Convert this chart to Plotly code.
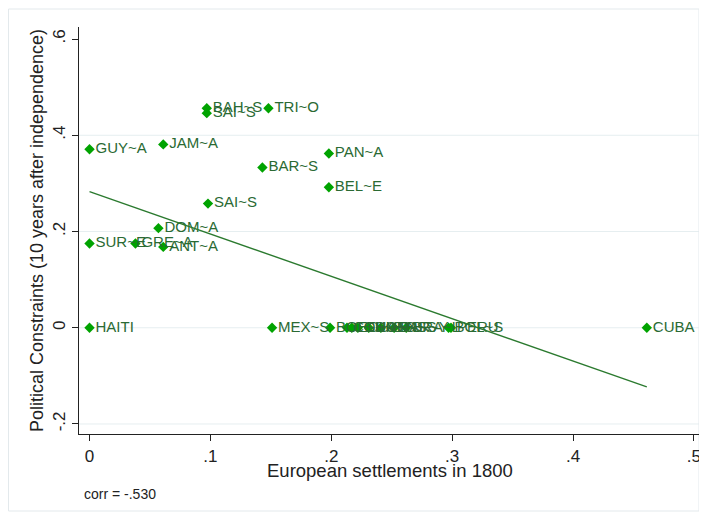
import plotly.graph_objects as go

# ---- data ----
labels = ["BAH~S", "SAI~S", "TRI~O", "GUY~A", "JAM~A", "PAN~A", "BAR~S", "BEL~E",
          "SAI~S", "DOM~A", "SUR~E", "GRE~A", "ANT~A", "HAITI", "MEX~S",
          "BOL~S", "COL~S", "ECU~S", "GUA~S", "HON~S", "VEN~S", "PAR~Y", "BRA~L",
          "BOL~S", "PERU", "CUBA"]
settle = [0.097, 0.097, 0.148, 0.0, 0.061, 0.198, 0.143, 0.198,
          0.098, 0.057, 0.0, 0.038, 0.061, 0.0, 0.151,
          0.199, 0.213, 0.217, 0.222, 0.231, 0.241, 0.252, 0.262,
          0.297, 0.299, 0.461]
polcon = [0.456, 0.446, 0.456, 0.371, 0.381, 0.362, 0.333, 0.292,
          0.258, 0.207, 0.175, 0.175, 0.168, 0.0, 0.0,
          0.0, 0.0, 0.0, 0.0, 0.0, 0.0, 0.0, 0.0,
          0.0, 0.0, 0.0]

# fitted line as shown in the picture (end points)
fit_x = [0.0, 0.461]
fit_y = [0.283, -0.123]

x_ticks = [0, 0.1, 0.2, 0.3, 0.4, 0.5]
x_ticklabels = ["0", ".1", ".2", ".3", ".4", ".5"]
y_ticks = [-0.2, 0, 0.2, 0.4, 0.6]
y_ticklabels = ["-.2", "0", ".2", ".4", ".6"]
y_grid = [-0.2, 0, 0.2, 0.4]
x_title = "European settlements in 1800"
y_title = "Political Constraints (10 years after independence)"
corr_text = "corr = -.530"

FONT = "Liberation Sans, Arial, sans-serif"
# the page body has an 8px margin, so the figure is drawn 8px smaller
W, H = 699, 511
L, R, T, B = 71, 7, 19, 85
PW, PH = W - L - R, H - T - B


def px(xf):
    return (xf - L) / PW


def py(yf):
    return (H - B - yf) / PH


fig = go.Figure()

fig.add_trace(go.Scatter(
    x=settle, y=polcon, mode="markers+text", text=labels,
    textposition="middle right",
    textfont=dict(family=FONT, size=15, color="#2a6a33"),
    marker=dict(symbol="diamond", size=8, color="#00a300"),
    hoverinfo="skip", showlegend=False, cliponaxis=False))

fig.add_trace(go.Scatter(
    x=fit_x, y=fit_y, mode="lines",
    line=dict(color="#2b7a2f", width=1.4),
    hoverinfo="skip", showlegend=False))

shapes = [dict(type="line", xref="paper", x0=0, x1=1, yref="y", y0=g, y1=g,
               line=dict(color="#e6eef0", width=1), layer="below") for g in y_grid]
shapes.append(dict(type="rect", xref="paper", yref="paper",
                   x0=px(0.5), x1=px(691), y0=py(503), y1=py(1),
                   line=dict(color="#e3e9ec", width=1), layer="below"))

fig.update_layout(
    width=W, height=H,
    margin=dict(l=L, r=R, t=T, b=B, autoexpand=False),
    paper_bgcolor="white", plot_bgcolor="white",
    font=dict(family=FONT, size=17, color="#222"),
    shapes=shapes,
    xaxis=dict(range=[-0.0087, 0.505], tickvals=x_ticks, ticktext=x_ticklabels,
               automargin=False,
               showgrid=False, zeroline=False, showline=True, linecolor="#222",
               linewidth=1.3, ticks="outside", ticklen=6, tickcolor="#222",
               tickfont=dict(family=FONT, size=17, color="#222")),
    yaxis=dict(range=[-0.2208, 0.625], tickvals=y_ticks, ticktext=y_ticklabels,
               automargin=False,
               showgrid=False, zeroline=False, showline=True, linecolor="#222",
               linewidth=1.3, ticks="outside", ticklen=6, tickcolor="#222",
               tickangle=-90,
               tickfont=dict(family=FONT, size=17, color="#222"),
               title=dict(text=y_title, standoff=1,
                          font=dict(family=FONT, size=18, color="#222"))),
    annotations=[
        dict(text=x_title, xref="paper", yref="paper", x=0.5, y=py(462),
             xanchor="center", yanchor="middle", showarrow=False,
             font=dict(family=FONT, size=18.5, color="#222")),
        dict(text=corr_text, xref="paper", yref="paper",
             x=px(74), y=py(486),
             xanchor="left", yanchor="middle", showarrow=False,
             font=dict(family=FONT, size=14, color="#222"))],
)

fig.write_html("out.html")
